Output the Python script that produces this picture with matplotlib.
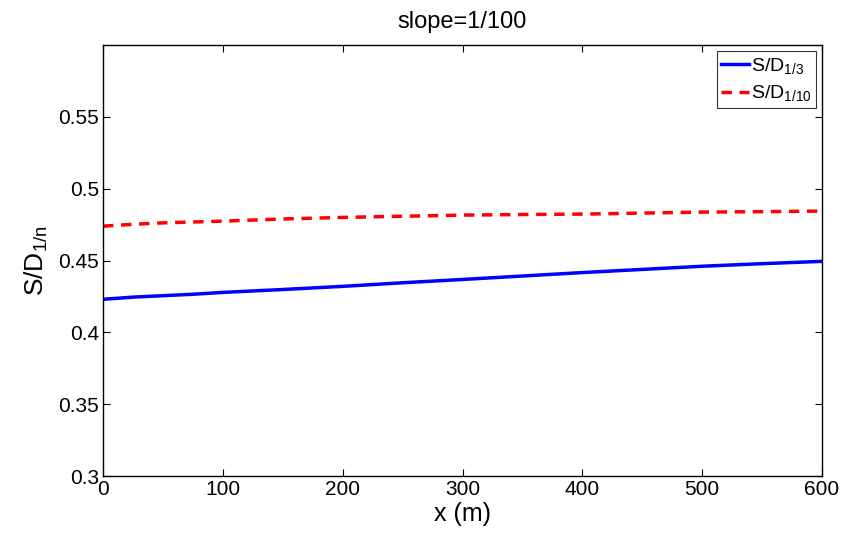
import matplotlib
matplotlib.use("Agg")
import matplotlib.pyplot as plt

plt.rcParams['font.family'] = ['Liberation Sans', 'DejaVu Sans']
plt.rcParams['mathtext.default'] = 'regular'
plt.rcParams['mathtext.fontset'] = 'custom'
plt.rcParams['mathtext.rm'] = 'Liberation Sans'

x = [0, 25, 50, 75, 100, 150, 200, 250, 300, 350, 400, 450, 500, 550, 600]
sd13 = [0.4230, 0.4245, 0.4255, 0.4265, 0.4278, 0.4298, 0.4320, 0.4345, 0.4368, 0.4392, 0.4416, 0.4438, 0.4460, 0.4478, 0.4494]
sd110 = [0.4739, 0.4752, 0.4762, 0.4768, 0.4774, 0.4789, 0.4800, 0.4808, 0.4816, 0.4820, 0.4823, 0.4830, 0.4837, 0.4840, 0.4844]

xticks = [0, 100, 200, 300, 400, 500, 600]
yticks = [0.3, 0.35, 0.4, 0.45, 0.5, 0.55]
yticklabels = ['0.3', '0.35', '0.4', '0.45', '0.5', '0.55']

fig = plt.figure(figsize=(8.42, 5.34), dpi=100)
ax = fig.add_axes([103/842, 58/534, 719/842, 431/534])
ax.plot(x, sd13, color='#0000ff', lw=2.5, label=r'S/D$_{1/3}$')
ax.plot(x, sd110, color='#ff0000', lw=2.5, ls=(0, (3, 2.2)), label=r'S/D$_{1/10}$')
ax.set_xlim(0, 600)
ax.set_ylim(0.3, 0.6)
ax.set_xticks(xticks)
ax.set_yticks(yticks)
ax.set_yticklabels(yticklabels)
ax.tick_params(direction='in', top=True, right=True, labelsize=15, length=5, width=0.8, pad=3)
for s in ax.spines.values():
    s.set_linewidth(1.0)
ax.set_title('slope=1/100', fontsize=17, pad=12)
ax.set_xlabel('x (m)', fontsize=18, labelpad=2)
ax.set_ylabel(r'S/D$_{1/n}$', fontsize=19, labelpad=6)
leg = ax.legend(loc='upper right', fontsize=14, frameon=True, fancybox=False,
                edgecolor='black', handlelength=1.4, borderaxespad=0.3,
                handletextpad=0.1, labelspacing=0.4, borderpad=0.25)
leg.get_frame().set_linewidth(0.8)
fig.savefig('out.png', dpi=100)
